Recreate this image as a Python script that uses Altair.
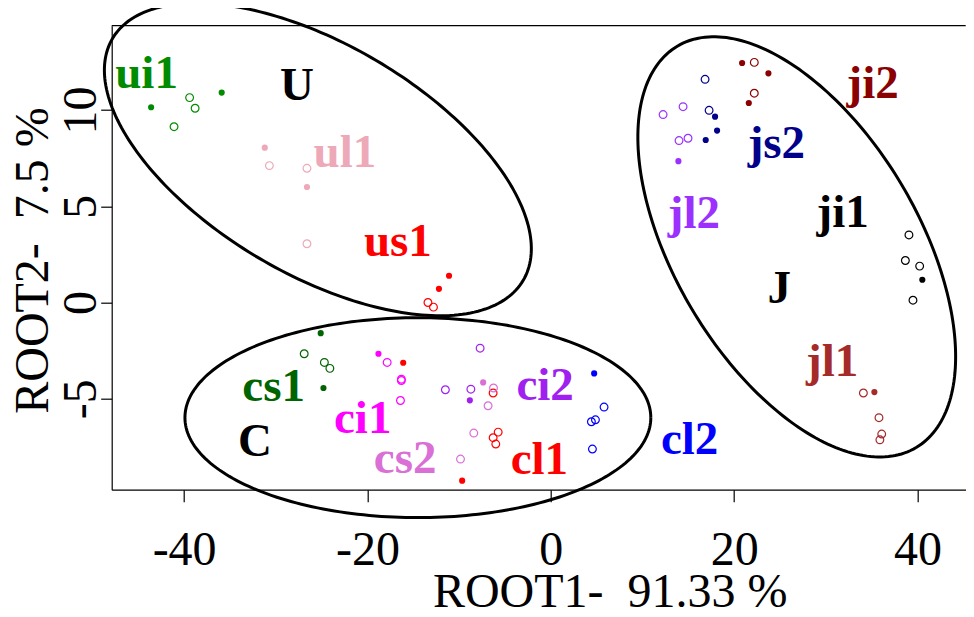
import altair as alt
import pandas as pd
import numpy as np

# ---- data ----
groups = ["ui1", "ul1", "us1", "cs1", "ci1", "cs2", "ci2", "cl1", "cl2",
          "ji2", "js2", "jl2", "ji1", "jl1"]
group_colors = ["#008B00", "#EEA9B8", "#FF0000", "#006400", "#FF00FF", "#DA70D6",
                "#A020F0", "#FF0000", "#0000FF", "#8B0000", "#00008B", "#9B30FF",
                "#000000", "#A52A2A"]

pt_group = (["ui1"] * 5 + ["ul1"] * 5 + ["us1"] * 4 + ["cs1"] * 5 + ["ci1"] * 5 +
            ["cl1"] * 6 + ["ci2"] * 4 + ["cs2"] * 5 + ["cl2"] * 5 + ["ji2"] * 5 +
            ["js2"] * 5 + ["jl2"] * 5 + ["ji1"] * 5 + ["jl1"] * 5)
pt_x = [-43.6, -39.4, -38.8, -35.9, -41.1,
        -31.2, -30.7, -26.6, -26.6, -26.6,
        -11.1, -12.2, -13.4, -12.8,
        -25.1, -26.9, -24.7, -24.1, -24.8,
        -18.8, -17.85, -16.3, -16.3, -16.4,
        -16.1, -9.67, -6.29, -5.74, -6.29, -6.0,
        -7.71, -11.5, -8.72, -8.83,
        -7.38, -6.25, -6.84, -8.40, -9.85,
        4.73, 5.81, 4.43, 4.87, 4.54,
        20.87, 22.2, 23.74, 22.2, 21.6,
        16.83, 17.27, 17.92, 18.14, 16.9,
        12.25, 14.43, 13.99, 14.97, 13.92,
        39.07, 38.68, 40.24, 40.53, 39.51,
        34.1, 35.3, 35.8, 36.1, 35.9]
pt_y = [10.14, 10.64, 10.09, 10.90, 9.13,
        8.04, 7.11, 6.97, 6.00, 3.05,
        1.39, 0.71, 0.0, -0.24,
        -1.59, -2.66, -3.11, -3.42, -4.44,
        -2.66, -3.11, -3.98, -4.05, -5.09,
        -3.13, -9.25, -4.70, -6.73, -7.02, -7.35,
        -2.37, -4.53, -4.50, -5.08,
        -4.15, -4.44, -5.36, -6.78, -8.13,
        -3.68, -5.43, -6.19, -6.09, -7.61,
        12.44, 12.47, 11.90, 10.87, 10.36,
        11.59, 9.98, 9.65, 8.93, 8.44,
        9.76, 10.17, 8.41, 8.53, 7.34,
        3.51, 2.18, 1.89, 1.18, 0.12,
        -4.70, -4.65, -5.98, -6.83, -7.13]
pt_filled = [1, 0, 0, 1, 0,
             1, 0, 0, 1, 0,
             1, 1, 0, 0,
             1, 0, 0, 0, 1,
             1, 0, 0, 0, 0,
             1, 1, 0, 0, 0, 0,
             0, 0, 0, 1,
             1, 0, 0, 0, 0,
             1, 0, 0, 0, 0,
             1, 0, 1, 0, 1,
             0, 0, 1, 1, 1,
             0, 0, 0, 0, 1,
             0, 0, 0, 1, 0,
             0, 1, 0, 0, 0]

lab_text = ["ui1", "U", "ul1", "us1", "cs1", "C", "ci1", "cs2", "ci2", "cl1", "cl2",
            "ji2", "js2", "jl2", "ji1", "J", "jl1"]
lab_x = [-44.1, -27.7, -22.46, -16.68, -30.24, -32.28, -20.52, -15.89, -0.62, -1.25, 15.14,
         35.11, 24.61, 15.61, 31.84, 24.92, 30.70]
lab_y = [11.13, 10.51, 7.06, 2.39, -5.14, -7.99, -6.78, -8.85, -5.05, -8.89, -7.85,
         10.61, 7.49, 3.86, 3.94, -0.03, -3.80]
lab_color = ["#008B00", "#000000", "#EEA9B8", "#FF0000", "#006400", "#000000", "#FF00FF",
             "#DA70D6", "#A020F0", "#FF0000", "#0000FF", "#8B0000", "#00008B", "#9B30FF",
             "#000000", "#000000", "#A52A2A"]

# ellipses: centre and two semi-axis vectors (data units)
ell_name = ["U", "C", "J"]
ell_cx = [-25.41, -14.50, 26.83]
ell_cy = [7.43, -5.98, 2.89]
ell_ux = [22.40, 25.41, 13.03]
ell_uy = [-6.28, 0.0, -10.42]
ell_vx = [-6.37, 0.0, -11.43]
ell_vy = [-5.14, -5.19, -3.24]

x_ticks = [-40, -20, 0, 20, 40]
y_ticks = [-5, 0, 5, 10]
x_domain = [-47.9, 45.26]
y_domain = [-9.72, 14.375]

x_title = "ROOT1-\u00a0 91.33 %"
y_title = "ROOT2-\u00a0 7.5 %"

# ---- tables ----
pts = pd.DataFrame({"group": pt_group, "x": pt_x, "y": pt_y, "filled": pt_filled})
labs = pd.DataFrame({"text": lab_text, "x": lab_x, "y": lab_y, "color": lab_color})

t = np.linspace(0, 2 * np.pi, 241)
rows = []
for i, n in enumerate(ell_name):
    for k, tt in enumerate(t):
        rows.append({"e": n, "o": k,
                     "x": ell_cx[i] + ell_ux[i] * np.cos(tt) + ell_vx[i] * np.sin(tt),
                     "y": ell_cy[i] + ell_uy[i] * np.cos(tt) + ell_vy[i] * np.sin(tt)})
ell = pd.DataFrame(rows)

W, H = 854, 464
FONT = "Liberation Serif"

xs = alt.Scale(domain=x_domain, nice=False, zero=False)
ys = alt.Scale(domain=y_domain, nice=False, zero=False)
col = alt.Scale(domain=groups, range=group_colors)

x_axis = alt.Axis(values=x_ticks, grid=False, tickSize=12, labelPadding=63,
                  labelExpr="'' + datum.value",
                  labelBaseline="alphabetic", labelFontSize=48, labelFont=FONT,
                  labelColor="black", labelFlush=False, labelOverlap=False,
                  title=x_title, titleFont=FONT, titleFontSize=48,
                  titleFontWeight="normal", titleColor="black", titleBaseline="alphabetic",
                  titleAlign="center", titleX=498, titleY=117,
                  domainColor="black", tickColor="black", domainWidth=1.2, tickWidth=1.2)
y_axis = alt.Axis(values=y_ticks, grid=False, tickSize=11, labelPadding=5.7,
                  labelExpr="'' + datum.value",
                  labelAngle=270, labelAlign="center", labelBaseline="alphabetic",
                  labelFontSize=48, labelFont=FONT, labelColor="black",
                  labelFlush=False, labelOverlap=False,
                  title=y_title, titleFont=FONT, titleFontSize=48,
                  titleFontWeight="normal", titleColor="black", titleAngle=270,
                  titleBaseline="alphabetic", titleAlign="center",
                  titleX=-64.7, titleY=234.3,
                  domainColor="black", tickColor="black", domainWidth=1.2, tickWidth=1.2)

ellipses = alt.Chart(ell).mark_line(color="black", strokeWidth=3).encode(
    x=alt.X("x:Q", scale=xs, axis=x_axis),
    y=alt.Y("y:Q", scale=ys, axis=y_axis),
    detail="e:N",
    order="o:Q",
)

open_pts = alt.Chart(pts).transform_filter("datum.filled == 0").mark_point(
    shape="circle", filled=False, size=60, strokeWidth=1.2, opacity=1
).encode(
    x=alt.X("x:Q", scale=xs),
    y=alt.Y("y:Q", scale=ys),
    color=alt.Color("group:N", scale=col, legend=None),
)

fill_pts = alt.Chart(pts).transform_filter("datum.filled == 1").mark_circle(
    size=38, opacity=1
).encode(
    x=alt.X("x:Q", scale=xs),
    y=alt.Y("y:Q", scale=ys),
    color=alt.Color("group:N", scale=col, legend=None),
)

texts = alt.Chart(labs).mark_text(
    font=FONT, fontWeight="bold", fontSize=47, align="center", baseline="alphabetic"
).encode(
    x=alt.X("x:Q", scale=xs),
    y=alt.Y("y:Q", scale=ys),
    text="text:N",
    color=alt.Color("color:N", scale=None),
)

top_border = alt.Chart(pd.DataFrame({"a": [0]})).mark_rule(
    color="black", strokeWidth=1.2
).encode(x=alt.value(0), x2=alt.value(W), y=alt.value(0))

chart = alt.layer(ellipses, open_pts, fill_pts, texts, top_border).properties(
    width=W, height=H,
    autosize=alt.AutoSizeParams(type="none"),
    padding={"left": 103.7, "top": 17.7, "right": 0, "bottom": 119},
).configure_view(stroke=None)

chart.save("out.html", embed_options={"renderer": "svg", "actions": False})
